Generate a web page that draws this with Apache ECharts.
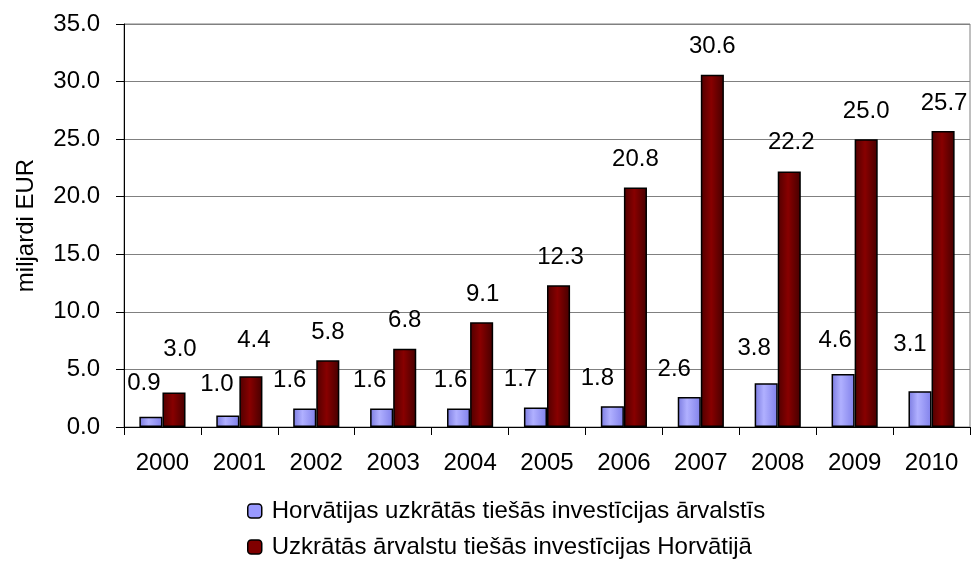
<!DOCTYPE html>
<html><head><meta charset="utf-8">
<script src="https://cdn.jsdelivr.net/npm/echarts@6/dist/echarts.min.js"></script>
<style>html,body{margin:0;padding:0;background:#fff}#c{width:973px;height:561px}</style>
</head><body><div id="c"></div>
<script>
const years = ['2000','2001','2002','2003','2004','2005','2006','2007','2008','2009','2010'];
const outward = [0.9,1.0,1.6,1.6,1.6,1.7,1.8,2.6,3.8,4.6,3.1];
const inward = [3.0,4.4,5.8,6.8,9.1,12.3,20.8,30.6,22.2,25.0,25.7];
const seriesNames = ['Horvātijas uzkrātās tiešās investīcijas ārvalstīs','Uzkrātās ārvalstu tiešās investīcijas Horvātijā'];
const yTicks = {min:0, max:35, interval:5};

// label placement nudges (dx, extra lift) as in the original manually arranged labels
const blueLabelShift = [[-7,5],[-11,3],[-15,0],[-12,0],[-8,0],[-15,0],[-15,0],[-15,0],[-12,7],[-8,6],[-10,19]];
const redLabelShift  = [[6,15],[3,8],[0,0],[0,0],[1,0],[2,0],[0,0],[0,0],[2,1],[0,0],[1,0]];

const font = 'Liberation Sans, Arial, sans-serif';
const FS = 24;
const blueGrad = new echarts.graphic.LinearGradient(0,0,1,0,[{offset:0,color:'#7a7ae0'},{offset:0.4,color:'#b0b0ff'},{offset:1,color:'#8080ea'}]);
const redGrad = new echarts.graphic.LinearGradient(0,0,1,0,[{offset:0,color:'#500000'},{offset:0.45,color:'#880000'},{offset:1,color:'#450000'}]);

function items(vals, shifts){
  return vals.map((v,i)=>({value:v,label:{offset:[shifts[i][0],-shifts[i][1]]}}));
}
const labelBase = {show:true,position:'top',distance:16,color:'#000',fontSize:FS,fontFamily:font,formatter:p=>p.value.toFixed(1)};

const chart = echarts.init(document.getElementById('c'));
chart.setOption({
  animation:false,
  grid:{left:124,right:3,top:24,bottom:134,show:true,borderColor:'#808080',borderWidth:1},
  xAxis:{type:'category',data:years,
    axisLine:{lineStyle:{color:'#000',width:1}},
    axisTick:{show:true,length:8,lineStyle:{color:'#000'}},
    axisLabel:{color:'#000',fontSize:FS,fontFamily:font,margin:24}},
  yAxis:{type:'value',min:yTicks.min,max:yTicks.max,interval:yTicks.interval,
    name:'miljardi EUR',nameLocation:'middle',nameGap:86,nameRotate:90,
    nameTextStyle:{color:'#000',fontSize:FS,fontFamily:font},
    axisLine:{show:true,lineStyle:{color:'#000'}},
    axisTick:{show:true,length:8,lineStyle:{color:'#000'}},
    splitLine:{lineStyle:{color:'#808080',width:1}},
    axisLabel:{color:'#000',fontSize:FS,fontFamily:font,margin:24,formatter:v=>v.toFixed(1)}},
  legend:[
    {left:247,top:499,padding:0,itemWidth:14,itemHeight:14,
     textStyle:{color:'#000',fontSize:FS,fontFamily:font,padding:[0,0,0,5]},
     data:[{name:seriesNames[0],itemStyle:{color:'#9999ff',borderColor:'#000',borderWidth:1.5}}]},
    {left:247,top:535,padding:0,itemWidth:14,itemHeight:14,
     textStyle:{color:'#000',fontSize:FS,fontFamily:font,padding:[0,0,0,5]},
     data:[{name:seriesNames[1],itemStyle:{color:'#800000',borderColor:'#000',borderWidth:1.5}}]}
  ],
  series:[
    {name:seriesNames[0],type:'bar',data:items(outward,blueLabelShift),barWidth:'30%',barGap:'0%',
     itemStyle:{color:blueGrad,borderColor:'#000',borderWidth:1.5},label:labelBase},
    {name:seriesNames[1],type:'bar',data:items(inward,redLabelShift),barWidth:'30%',barGap:'0%',
     itemStyle:{color:redGrad,borderColor:'#000',borderWidth:1.5},label:labelBase}
  ]
});
</script></body></html>
